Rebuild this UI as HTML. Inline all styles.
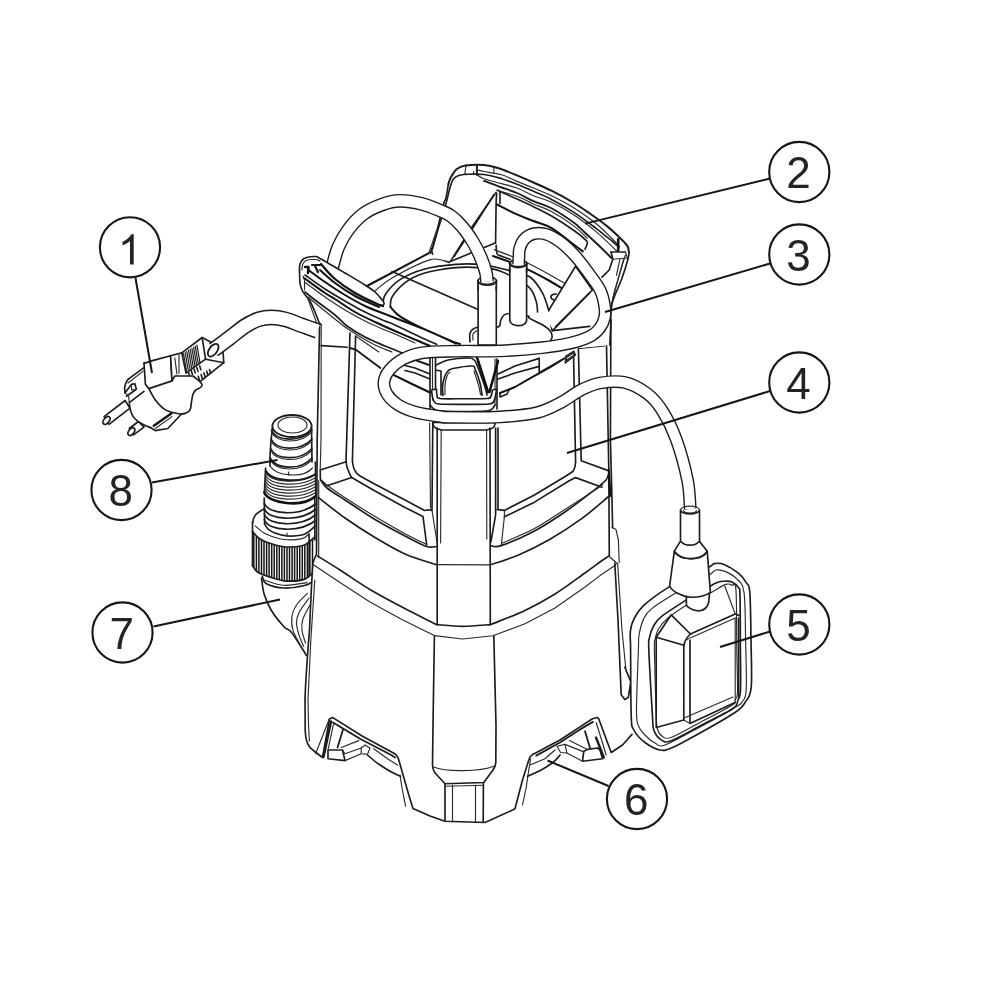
<!DOCTYPE html>
<html><head><meta charset="utf-8">
<style>
html,body{margin:0;padding:0;background:#fff;}
body{width:1000px;height:1000px;overflow:hidden;}
svg{display:block;}
.k{fill:none;stroke:#1c1c1c;stroke-width:1.65;stroke-linecap:round;stroke-linejoin:round;}
.t{fill:none;stroke:#2a2a2a;stroke-width:1.15;stroke-linecap:round;stroke-linejoin:round;}
.b{fill:none;stroke:#111;stroke-width:2;stroke-linecap:round;stroke-linejoin:round;}
.w{fill:#fff;stroke:#1c1c1c;stroke-width:1.65;stroke-linecap:round;stroke-linejoin:round;}
.wt{fill:#fff;stroke:#2a2a2a;stroke-width:1.15;stroke-linecap:round;stroke-linejoin:round;}
.wn{fill:#fff;stroke:none;}
.num{filter:grayscale(1);font-family:"Liberation Sans",sans-serif;font-size:44px;fill:#222;text-anchor:middle;}
.lead{fill:none;stroke:#151515;stroke-width:2;stroke-linecap:butt;}
.circ{fill:#fff;stroke:#151515;stroke-width:2.1;}
</style></head><body>
<svg width="1000" height="1000" viewBox="0 0 1000 1000">
<rect width="1000" height="1000" fill="#fff"/>
<g id="fitting">
<path class="wn" d="M261.5,578.0 C261.9,580.7 262.6,588.9 264.2,594.3 C265.8,599.7 268.1,605.1 271.4,610.5 C274.7,615.9 280.7,623.1 284.0,626.7 C287.3,630.3 288.2,628.4 291.2,632.0 C294.2,635.6 299.5,644.4 302.0,648.3 C304.5,652.2 305.7,654.3 306.4,655.5 L320,656 L320,580 Z"/>
<path class="k" d="M261.5,578.0 C261.9,580.7 262.6,588.9 264.2,594.3 C265.8,599.7 268.1,605.1 271.4,610.5 C274.7,615.9 280.7,623.1 284.0,626.7 C287.3,630.3 288.2,628.4 291.2,632.0 C294.2,635.6 299.5,644.4 302.0,648.3 C304.5,652.2 305.7,654.3 306.4,655.5"/>
<path class="t" d="M307.3,593.4 C305.5,595.3 299.1,601.2 296.5,605.0 C293.9,608.8 292.6,611.8 292.0,616.0 C291.4,620.2 291.3,624.9 293.0,630.3 C294.7,635.7 300.5,645.3 302.0,648.3"/>
<path class="t" d="M309.1,598.0 C307.5,600.4 301.3,608.1 299.2,612.3 C297.1,616.5 296.5,619.1 296.5,623.0 C296.5,626.9 298.0,631.8 299.2,635.7 C300.4,639.6 302.9,644.7 303.7,646.5"/>
<path class="t" d="M310.0,605.0 C308.8,607.4 304.1,615.3 302.8,619.5 C301.5,623.7 301.6,626.4 302.0,630.3 C302.4,634.2 304.9,640.9 305.5,643.0"/>
<path class="wn" d="M262.4,576.3 C263.0,577.5 262.4,581.5 266.0,583.5 C269.6,585.5 277.4,587.7 284.0,588.0 C290.6,588.3 300.5,586.6 305.5,585.3 C310.5,584.0 312.6,580.9 314.0,580.0 L314,560 L262,560 Z"/>
<path class="k" d="M262.4,576.3 C263.0,577.5 262.4,581.5 266.0,583.5 C269.6,585.5 277.4,587.7 284.0,588.0 C290.6,588.3 300.5,586.6 305.5,585.3 C310.5,584.0 312.6,580.9 314.0,580.0"/>
<path class="t" d="M264.2,580.0 C267.5,580.9 276.8,584.9 284.0,585.3 C291.2,585.7 303.4,583.0 307.3,582.6"/>
<path class="wn" d="M252.5,523.0 C252.8,522.1 253.2,519.1 254.0,517.5 C254.8,515.9 255.3,514.8 257.0,513.4 C258.7,512.0 261.2,510.0 264.2,508.9 C267.2,507.8 273.2,506.9 275.0,506.5 L314.5,506 L314.5,571 L314.5,571.0 L309.0,576.3 L302.0,580.0 L284.0,580.8 L262.4,574.5 L256.0,570.5 L252.5,565.5 Z"/>
<path d="M253.8,533.0 L253.8,567.7" stroke="#161616" stroke-width="1.5" fill="none"/>
<path d="M256.4,536.0 L256.4,570.8" stroke="#161616" stroke-width="1.5" fill="none"/>
<path d="M258.9,538.2 L258.9,573.0" stroke="#161616" stroke-width="1.5" fill="none"/>
<path d="M261.5,540.0 L261.5,574.1" stroke="#161616" stroke-width="1.5" fill="none"/>
<path d="M264.0,541.2 L264.0,575.1" stroke="#161616" stroke-width="1.5" fill="none"/>
<path d="M266.6,542.2 L266.6,576.0" stroke="#161616" stroke-width="1.5" fill="none"/>
<path d="M269.1,543.1 L269.1,576.9" stroke="#161616" stroke-width="1.5" fill="none"/>
<path d="M271.7,543.9 L271.7,577.7" stroke="#161616" stroke-width="1.5" fill="none"/>
<path d="M274.2,544.6 L274.2,578.5" stroke="#161616" stroke-width="1.5" fill="none"/>
<path d="M276.8,545.3 L276.8,579.2" stroke="#161616" stroke-width="1.5" fill="none"/>
<path d="M279.3,545.9 L279.3,579.9" stroke="#161616" stroke-width="1.5" fill="none"/>
<path d="M281.9,546.4 L281.9,580.4" stroke="#161616" stroke-width="1.5" fill="none"/>
<path d="M284.4,546.7 L284.4,580.9" stroke="#161616" stroke-width="1.5" fill="none"/>
<path d="M287.0,546.9 L287.0,581.1" stroke="#161616" stroke-width="1.5" fill="none"/>
<path d="M289.5,546.9 L289.5,581.2" stroke="#161616" stroke-width="1.5" fill="none"/>
<path d="M292.1,546.9 L292.1,581.1" stroke="#161616" stroke-width="1.5" fill="none"/>
<path d="M294.6,546.7 L294.6,581.0" stroke="#161616" stroke-width="1.5" fill="none"/>
<path d="M297.2,546.5 L297.2,580.7" stroke="#161616" stroke-width="1.5" fill="none"/>
<path d="M299.7,546.2 L299.7,580.4" stroke="#161616" stroke-width="1.5" fill="none"/>
<path d="M302.3,545.8 L302.3,580.0" stroke="#161616" stroke-width="1.5" fill="none"/>
<path d="M304.8,545.0 L304.8,579.2" stroke="#161616" stroke-width="1.5" fill="none"/>
<path d="M307.4,543.3 L307.4,577.6" stroke="#161616" stroke-width="1.5" fill="none"/>
<path d="M309.9,541.3 L309.9,575.6" stroke="#161616" stroke-width="1.5" fill="none"/>
<path d="M312.5,539.0 L312.5,573.1" stroke="#161616" stroke-width="1.5" fill="none"/>
<path class="k" d="M252.5,523.0 C252.8,522.1 253.2,519.1 254.0,517.5 C254.8,515.9 255.3,514.8 257.0,513.4 C258.7,512.0 261.2,510.0 264.2,508.9 C267.2,507.8 273.2,506.9 275.0,506.5"/>
<path class="k" d="M252.5,522 L252.5,565.5"/>
<path class="k" d="M252.5,531.4 C253.4,532.4 255.8,535.7 258.0,537.5 C260.2,539.3 261.7,540.5 266.0,542.0 C270.3,543.5 278.0,546.1 284.0,546.7 C290.0,547.3 297.8,546.6 302.0,545.8 C306.2,545.0 306.9,543.5 309.0,542.0 C311.1,540.5 313.6,537.8 314.5,537.0"/>
<path class="k" d="M252.5,565.5 C253.1,566.3 254.3,569.0 256.0,570.5 C257.6,572.0 257.7,572.8 262.4,574.5 C267.1,576.2 277.4,579.9 284.0,580.8 C290.6,581.7 297.8,580.8 302.0,580.0 C306.2,579.2 306.9,577.8 309.0,576.3 C311.1,574.8 313.6,571.9 314.5,571.0" style="stroke-width:1.8"/>
<path class="t" d="M255.2,526.0 C257.0,527.3 261.2,531.8 266.0,534.0 C270.8,536.2 278.0,538.7 284.0,539.5 C290.0,540.3 297.8,539.5 302.0,538.6 C306.2,537.7 307.8,534.8 309.0,534.0"/>
<path class="k" d="M309.1,534 L309.1,576"/>
<path class="wn" d="M264.2,496 L264.6,524.0 L268.0,529.0 L275.0,533.0 L287.5,536.0 L302.0,535.0 L309.0,531.4 L315.0,526.0 L316,496 Z"/>
<path class="k" d="M264.2,498 L264.6,524 M314.8,498 L314.8,540"/>
<path class="k" d="M264.6,524.0 C265.2,524.8 266.3,527.5 268.0,529.0 C269.7,530.5 271.8,531.8 275.0,533.0 C278.2,534.2 283.0,535.7 287.5,536.0 C292.0,536.3 298.4,535.8 302.0,535.0 C305.6,534.2 306.8,532.9 309.0,531.4 C311.2,529.9 314.0,526.9 315.0,526.0"/>
<path class="k" d="M264.3,503.0 C268,515.0 300,516.5 315.5,504.0"/>
<path class="k" d="M264.3,508.5 C268,520.5 300,522.0 315.5,509.5"/>
<path class="k" d="M264.3,514.0 C268,526.0 300,527.5 315.5,515.0"/>
<path class="k" d="M264.3,519.5 C268,531.5 300,533.0 315.5,520.5"/>
<path class="t" d="M287,536.5 L287,533"/>
<path class="wn" d="M265.4,466 L264.2,494 C272,506 308,508 315.8,496 L315.8,466 Z"/>
<path class="k" d="M265.6,468 L264.4,492.4 M315.4,462 L315.8,496"/>
<path class="t" d="M265.2,471.5 C270,483.0 300,484.5 315.8,474.5"/>
<path class="t" d="M265.2,474.5 C270,486.0 300,487.5 315.8,477.5"/>
<path class="t" d="M265.2,477.5 C270,489.0 300,490.5 315.8,480.5"/>
<path class="t" d="M265.2,480.5 C270,492.0 300,493.5 315.8,483.5"/>
<path class="t" d="M265.2,483.5 C270,495.0 300,496.5 315.8,486.5"/>
<path class="t" d="M265.2,486.5 C270,498.0 300,499.5 315.8,489.5"/>
<path class="t" d="M265.2,489.5 C270,501.0 300,502.5 315.8,492.5"/>
<path class="b" d="M264.2,492.4 C268,503.5 302,508.5 315.8,496" style="stroke-width:2.6"/>
<path class="k" d="M266,471 C271,481 300,484 315.5,474" style="stroke-width:2"/>
<path class="wn" d="M272.5,427 L270,458 L270,470 C280,480 305,480 312,470 L311.5,427 Z"/>
<path class="k" d="M272.5,427 C271.5,435 270.5,444 270,456 L270,466 M311.5,427 L312,462"/>
<path class="k" d="M271.5,430.0 C276,441.5 300,443.0 312,430.0"/>
<path class="t" d="M271.5,431.8 C276,443.3 300,444.8 312,431.8"/>
<path class="k" d="M271.1,439.0 C276,450.5 300,452.0 312,439.0"/>
<path class="t" d="M271.1,440.8 C276,452.3 300,453.8 312,440.8"/>
<path class="k" d="M270.6,448.5 C276,460.0 300,461.5 312,448.5"/>
<path class="t" d="M270.6,450.3 C276,461.8 300,463.3 312,450.3"/>
<path class="k" d="M270.1,458.0 C276,469.5 300,471.0 312,458.0"/>
<path class="t" d="M270.1,459.8 C276,471.3 300,472.8 312,459.8"/>
<path class="t" d="M270,466 C276,476 303,479 312.5,468"/>
<path class="t" d="M288.5,472 L288.5,475"/>
<ellipse cx="292" cy="426" rx="19.6" ry="11" class="w" style="stroke-width:1.8"/>
<ellipse cx="292.5" cy="425" rx="14.5" ry="8" class="wt"/>
</g>
<g id="midbody">
<path class="wn" d="M319.6,325.6 L317.2,440 L316.5,548 L317.5,556.0 L340.0,570.0 L370.0,589.5 L400.0,606.0 L436.2,624.5 L462.5,626.4 L490.6,624.6 L525.0,610.5 L555.0,594.0 L585.0,573.0 L600.0,562.0 L609.3,555.7 L612,527 L611,330 L560,340 L480,360 L400,340 Z"/>
<path class="k" d="M319.6,325.6 L317.2,440 L316.5,554 L313,562.5"/>
<path class="k" d="M317.5,556.0 C321.2,558.3 331.2,564.4 340.0,570.0 C348.8,575.6 360.0,583.5 370.0,589.5 C380.0,595.5 389.0,600.2 400.0,606.0 C411.0,611.8 430.2,621.4 436.2,624.5 L436.2,624.5 C440.6,624.8 453.4,626.4 462.5,626.4 C471.6,626.4 485.9,624.9 490.6,624.6 L490.6,624.6 C496.3,622.2 514.3,615.6 525.0,610.5 C535.7,605.4 545.0,600.2 555.0,594.0 C565.0,587.8 577.5,578.3 585.0,573.0 C592.5,567.7 596.0,564.9 600.0,562.0 C604.0,559.1 607.8,556.8 609.3,555.7"/>
<path class="t" d="M321.2,326 L321,440 L320.2,470 M318.7,480.5 L318.7,557"/>
<path class="k" d="M606.5,345.3 L608.8,470 L609.3,555.7"/>
<path class="k" d="M610.9,320 L610.4,440 L612,500 L612.6,528"/>
<path class="b" d="M608.8,470.4 L610.4,496" style="stroke-width:2.2"/>
<path class="t" d="M604.8,345.9 L578.4,348.6"/>
<path class="k" d="M321.2,345.6 L347.2,347.2"/>
<path class="t" d="M612,527.2 L616,529.6 L618.4,540 L619.2,562.4 M609.6,556.8 L616.8,563.2"/>
<path class="k" d="M437.2,428 L437.2,625 M490,428 L490.3,624.6"/>
<path class="t" d="M441.2,430 L440.6,543 M486.6,430 L486.8,539"/>
<path class="t" d="M437.2,564.6 L490,564.8"/>
<path class="k" d="M432.8,422.4 L495.2,422.4 M432.8,422.8 C433,426 434.5,428 437.2,428.8 L441.6,430 L486.4,430 L491,428.8 C493.5,428 495,426 495.2,422.8"/>
<path class="k" d="M350,333 L346,461 C346.5,466 347.5,469 348.4,470.5 C349.5,474 350.5,476 351.7,477.5 L375,491 L405,507.5 L423,516.5 L426.7,545"/>
<path class="k" d="M355.6,336 L352.4,461 C353,466 354,469 354.8,470.4 C356,473 358,475 360,476 L375,484.2 L405,500 L424.5,510.5 L429,509.7 L432,510.5 L432.8,423"/>
<path class="t" d="M429.6,423 L430.5,508"/>
<path class="t" d="M432,510.5 L437.2,543.5"/>
<path class="k" d="M320.2,470 L346.2,461.7 M320.2,470 L320.4,479.7 L327,485.7 L351.7,477.5"/>
<path class="k" d="M321.0,480.5 C322.0,481.8 323.0,484.8 327.0,488.0 C331.0,491.2 337.0,494.8 345.0,500.0 C353.0,505.2 365.0,513.5 375.0,519.5 C385.0,525.5 396.4,531.5 405.0,536.0 C413.6,540.5 421.4,544.8 426.7,546.5 C431.9,548.2 434.9,546.5 436.5,546.5"/>
<path class="t" d="M327.7,485.7 C330.6,487.7 337.1,492.6 345.0,497.7 C352.9,502.8 365.0,510.5 375.0,516.5 C385.0,522.5 396.5,529.1 405.0,533.7 C413.5,538.3 422.5,542.5 426.0,544.2"/>
<path class="k" d="M318.7,497.7 C323.1,501.1 335.6,511.4 345.0,518.0 C354.4,524.6 365.0,531.5 375.0,537.5 C385.0,543.5 394.6,549.4 405.0,554.0 C415.4,558.6 431.8,563.2 437.2,565.0"/>
<path class="k" d="M495.6,428 L495.6,515.2 L490.8,542.4 M504.4,516.8 L534,502.4 L569.2,480.8 L575.6,477.6 L602,487.2"/>
<path class="k" d="M498,428 L498,509.6 L504.4,510.4 L534,495.2 L566,476 L573.2,471.2 C575,468 575.6,466 575.6,462 L573.5,353"/>
<path class="k" d="M578.4,349 L581.2,460.8 L607.6,470.4"/>
<path class="t" d="M504.4,510.4 L504.4,516.8 L501.2,545.6 M495.6,509.6 L498,509.6"/>
<path class="k" d="M490.8,545.6 C492.5,545.6 494.0,548.0 501.2,545.6 C508.4,543.2 523.2,536.9 534.0,531.2 C544.8,525.5 555.9,518.1 566.0,511.2 C576.1,504.3 588.1,494.8 594.8,489.6 C601.5,484.4 603.7,482.5 606.0,480.0 C608.3,477.5 608.0,475.3 608.4,474.4"/>
<path class="t" d="M502.0,543.2 C507.3,540.8 523.3,534.5 534.0,528.8 C544.7,523.1 554.5,516.1 566.0,508.8 C577.5,501.5 596.7,488.8 602.8,484.8"/>
<path class="k" d="M490.0,564.8 C494.7,563.2 508.0,559.5 518.0,555.2 C528.0,550.9 539.3,545.3 550.0,539.2 C560.7,533.1 572.1,525.6 582.0,518.4 C591.9,511.2 604.7,499.7 609.2,496.0"/>
</g>
<g id="base">
<path class="wn" d="M313,562.5 C311.5,580 310.5,610 309.5,630 C307,660 305.5,685 305,700 L305.2,731 C305.5,742 309,748 314,751 L322.5,757.5 L329.5,719 L332.5,717.5 L335.6,719.4 L362.5,736.2 L392.5,752.5 C396,754 398,757 398.8,760 L403.8,777.5 L408.8,795 L413,808.5 L430,816 L445,821.2 L485,822.5 L510,811.2 L515,808.8 L522.5,780 L528.8,760 C530,756 532,754 535.6,753 L560,740 L580,726.9 L592.5,718.8 L597.5,717.5 L598.8,719 L611.2,752.5 L622.5,745 L632,734.4 L628.4,697.2 L624.8,699.6 L621.2,694.8 L618,620 L615.2,563.2 L600.0,573.5 L585.0,585.0 L555.0,606.0 L525.0,621.7 L492.7,633.7 L462.5,637.0 L434.4,633.0 L420.0,626.5 L400.0,616.5 L370.0,600.0 L340.0,580.5 L313.0,562.5 Z"/>
<path class="k" d="M313,562.5 C311.5,580 310.5,610 309.5,630 C307,660 305.5,685 305,700 L305.2,731 C305.5,742 309,748 314,751 L322.5,757.5 L329.5,719 L332.5,717.5 L335.6,719.4 L362.5,736.2 L392.5,752.5 C396,754 398,757 398.8,760 L403.8,777.5 L408.8,795 L413,808.5 L430,816 L445,821.2 L485,822.5 L510,811.2 L515,808.8 L522.5,780 L528.8,760 C530,756 532,754 535.6,753 L560,740 L580,726.9 L592.5,718.8 L597.5,717.5 L598.8,719 L611.2,752.5 L622.5,745 L632,734.4"/>
<path class="k" d="M614.8,563.2 L618,620 L621.2,694.8 L624.8,699.6 L628.4,697.2 L630.8,681.6 L624.8,667.2"/>
<path class="t" d="M617.6,563 L622,630 L626,670.8"/>
<path class="t" d="M313.0,564.6 L340.0,582.6 L370.0,602.0 L400.0,618.5 L420.0,628.5 L434.4,635.6"/>
<path class="t" d="M434.4,635.6 L462.5,639.0 L493.0,635.8 L525.0,623.7 L555.0,608.0 L585.0,587.0 L600.0,575.6 L616.0,564.8"/>
<path class="t" d="M314.8,580 C312.5,610 309.5,660 308,700 L308.5,725 L309.4,741"/>
<path class="k" d="M434.4,636.2 L433,725 L432.5,765 C432.8,770 434,772 436,774 L445,783.8 L483.8,782.5 L493,770 C494.5,768 495.5,766 495.8,763 L496,725 L493.8,635.6"/>
<path class="t" d="M433.5,767 C445,772 480,772 494.5,766"/>
<path class="t" d="M446,786.3 L483,785.3"/>
<path class="k" d="M445,783.8 L445,821.2 M483.4,782.5 L483.2,822"/>
<path class="t" d="M452.5,785 L452.5,822 M475.5,785 L475.5,822.3"/>
<path class="t" d="M315.6,753.8 L329.4,718.8"/>
<path class="k" d="M323.5,757 L331,721.5" style="stroke-width:2.4"/>
<path class="k" d="M333,722.5 L360,738.8 L391.2,755 L395,757.5" style="stroke-width:1.8"/>
<path class="t" d="M400,775 L401.9,787.5 L405.6,806.2"/>
<path class="k" d="M367.5,755 C372,759 376,762.5 380,765 C386,769 393,773.5 400.5,776.2"/>
<path class="t" d="M373.8,748.8 L387.5,758.8 L397.5,765"/>
<path class="k" d="M328,750 L342.5,750 L345,760.6 L328,758.8 Z"/>
<path class="t" d="M341.2,747.5 L358.8,740.6 M345,753.8 L361.2,748 M345,760.6 L361.2,753.8 M342.5,750 L345,753.8"/>
<path class="t" d="M361.2,748 L365,745 L370,748 L367.5,754.4 L361.2,753.8 Z"/>
<path class="k" d="M337.5,747.5 L343,729.4" style="stroke-width:1.8"/>
<path class="t" d="M328,750 L333.5,724"/>
<path class="t" d="M522.5,805 L526.2,787.5 L528.8,770 L530.6,758.8"/>
<path class="k" d="M536.2,755.6 L560,742.5 L580,729.4 L593,721.9" style="stroke-width:1.8"/>
<path class="t" d="M596.2,722.5 L606.2,755"/>
<path class="k" d="M596,737.5 L603.8,757.5" style="stroke-width:2.4"/>
<path class="k" d="M527.5,776.2 C533,774 537,772 541.2,770 C545,768 548,766 551.2,763.8 C555,761 558,758 560,755"/>
<path class="t" d="M530,765 L545,758.8 L555,750"/>
<path class="k" d="M583.8,751.2 L587.5,749.4 L597.5,748 L600,750 L602.5,758.8 L582.5,761.2 Z"/>
<path class="t" d="M587.5,749.4 L569.4,740.6 M583.8,751.9 L565,744.4 M582.5,761.2 L566.9,753"/>
<path class="t" d="M565,744.4 L556.9,746.2 L560.6,752.5 L566.9,753 Z"/>
<path class="k" d="M585,731.2 L590,748" style="stroke-width:1.8"/>
</g>
<g id="backhandle">
<path class="wn" d="M448.4,184.0 C448.8,182.8 449.6,179.4 451.0,177.0 C452.4,174.6 454.1,171.2 456.5,169.3 C458.9,167.4 460.7,166.2 465.3,165.5 C469.9,164.8 478.7,164.5 484.0,164.9 C489.3,165.3 491.7,165.9 497.2,167.7 C502.7,169.4 510.9,172.9 517.0,175.4 C523.0,177.9 527.7,179.9 533.5,182.5 C539.3,185.1 545.2,187.5 552.0,190.9 C558.8,194.3 567.6,199.2 574.0,203.0 C580.4,206.8 585.0,210.2 590.5,214.0 C596.0,217.8 602.4,222.4 607.0,226.1 C611.6,229.8 615.1,233.2 618.0,236.0 C620.9,238.8 623.0,240.8 624.6,242.6 C626.2,244.4 627.2,245.3 627.9,247.0 C628.6,248.7 628.8,251.6 629.0,252.5 L629.0,252.5 C628.8,253.6 629.2,254.6 628.0,259.0 C626.8,263.4 624.5,271.3 621.8,278.8 C619.1,286.3 613.9,295.6 612.0,304.0 C610.1,312.4 611.0,322.4 610.6,329.2 C610.2,336.0 609.9,342.4 609.8,345.0 L560,350 L431,260 L430,254 L430.0,254.0 L434.8,239.6 L443.3,205.0 L446.0,198.0 L448.4,184.0 Z"/>
<path class="k" d="M448.4,184.0 C448.8,182.8 449.6,179.4 451.0,177.0 C452.4,174.6 454.1,171.2 456.5,169.3 C458.9,167.4 460.7,166.2 465.3,165.5 C469.9,164.8 478.7,164.5 484.0,164.9 C489.3,165.3 491.7,165.9 497.2,167.7 C502.7,169.4 510.9,172.9 517.0,175.4 C523.0,177.9 527.7,179.9 533.5,182.5 C539.3,185.1 545.2,187.5 552.0,190.9 C558.8,194.3 567.6,199.2 574.0,203.0 C580.4,206.8 585.0,210.2 590.5,214.0 C596.0,217.8 602.4,222.4 607.0,226.1 C611.6,229.8 615.1,233.2 618.0,236.0 C620.9,238.8 623.0,240.8 624.6,242.6 C626.2,244.4 627.2,245.3 627.9,247.0 C628.6,248.7 628.8,251.6 629.0,252.5" style="stroke-width:2"/>
<path class="k" d="M629.0,252.5 C628.8,253.6 629.2,254.6 628.0,259.0 C626.8,263.4 624.5,271.3 621.8,278.8 C619.1,286.3 613.9,295.6 612.0,304.0 C610.1,312.4 611.0,322.4 610.6,329.2 C610.2,336.0 609.9,342.4 609.8,345.0"/>
<path class="k" d="M448.4,184.0 C448.0,186.3 446.9,194.5 446.0,198.0 C445.1,201.5 445.2,198.1 443.3,205.0 C441.4,211.9 437.0,231.4 434.8,239.6 C432.6,247.8 430.8,251.6 430.0,254.0"/>
<path class="k" d="M432.4,249.2 C433.5,245.5 436.5,234.4 438.8,226.8 C441.1,219.2 444.1,209.9 446.0,203.4 C447.9,196.9 448.7,192.0 449.9,188.0 C451.1,184.0 451.7,181.3 453.2,179.2 C454.7,177.1 456.7,176.2 458.7,175.4 C460.7,174.6 464.2,174.5 465.3,174.3"/>
<path class="t" d="M477.0,170.0 C478.2,170.2 479.9,170.7 484.0,171.5 C488.1,172.3 496.1,173.2 501.6,174.8 C507.1,176.5 511.7,179.2 517.0,181.4 C522.3,183.6 527.7,185.6 533.5,188.0 C539.3,190.4 545.2,192.7 552.0,196.0 C558.8,199.3 566.7,203.4 574.0,208.0 C581.3,212.6 589.7,218.4 596.0,223.5 C602.3,228.6 608.2,234.8 612.0,238.5 C615.8,242.2 617.8,244.8 619.0,246.0"/>
<path class="k" d="M465.3,174.3 C468.4,174.3 477.9,173.8 484.0,174.5 C490.1,175.2 496.1,177.1 501.6,178.7 C507.1,180.3 511.7,182.1 517.0,184.2 C522.3,186.3 527.7,188.7 533.5,191.3 C539.3,193.9 545.2,196.2 552.0,199.7 C558.8,203.2 566.7,207.6 574.0,212.4 C581.3,217.2 589.6,223.5 596.0,228.3 C602.4,233.2 608.7,238.4 612.5,241.5 C616.3,244.6 617.9,246.1 619.0,247.0"/>
<path class="t" d="M476.9,174.8 C478.1,175.5 479.9,177.2 484.0,178.7 C488.1,180.2 496.1,182.0 501.6,183.6 C507.1,185.2 511.7,186.0 517.0,188.0 C522.3,190.0 527.7,193.3 533.5,195.7 C539.3,198.1 545.2,199.3 552.0,202.5 C558.8,205.7 566.7,210.2 574.0,215.1 C581.3,219.9 589.8,226.5 596.0,231.6 C602.2,236.7 607.9,242.6 611.4,245.9 C614.9,249.2 616.1,250.5 617.0,251.4"/>
<path class="k" d="M484.0,180.9 C486.9,182.0 496.1,185.5 501.6,187.5 C507.1,189.5 511.7,190.7 517.0,193.0 C522.3,195.3 527.7,198.6 533.5,201.2 C539.3,203.8 545.2,204.9 552.0,208.5 C558.8,212.1 568.5,218.8 574.0,222.8 C579.5,226.8 580.6,228.7 585.0,232.7 C589.4,236.7 596.0,242.8 600.4,247.0 C604.8,251.2 609.6,256.2 611.4,258.0" style="stroke-width:1.9"/>
<path class="t" d="M500.0,191.3 C502.8,192.1 511.4,194.2 517.0,196.3 C522.6,198.4 527.7,201.4 533.5,204.0 C539.3,206.6 545.2,208.1 552.0,211.8 C558.8,215.5 568.1,221.7 574.0,226.1 C579.9,230.5 585.0,236.2 587.2,238.2"/>
<path class="k" d="M500.0,191.6 C502.8,192.8 511.4,196.5 517.0,199.0 C522.6,201.5 527.7,203.8 533.5,206.7 C539.3,209.6 545.2,212.2 552.0,216.2 C558.8,220.2 568.3,226.5 574.0,230.5 C579.7,234.5 583.9,238.2 586.1,240.4 C588.3,242.6 587.4,242.2 587.2,243.7 C587.0,245.2 585.4,248.3 585.0,249.2"/>
<path class="b" d="M497.2,204.5 C500.5,206.2 510.9,211.7 517.0,214.4 C523.0,217.2 527.7,218.7 533.5,221.0 C539.3,223.3 545.2,224.3 552.0,228.3 C558.8,232.3 568.9,241.0 574.0,244.8 C579.1,248.7 581.3,250.3 582.8,251.4"/>
<path class="t" d="M465.9,166.0 L464.8,174.3"/>
<path class="k" d="M476.9,166.0 L476.9,174.8" style="stroke-width:2"/>
<path class="t" d="M473.6,171.5 L473.6,174.6"/>
<path class="t" d="M493.9,167.7 L493.9,172.6"/>
<path class="k" d="M497.2,190.2 L500.0,191.3 L500.0,203.4"/>
<path class="k" d="M496.7,193.5 C496.6,195.3 496.3,196.2 496.1,204.5 C495.9,212.8 495.7,236.6 495.6,243.0"/>
<path class="k" d="M496.1,192.4 L473.0,225.4 L451.0,260.6"/>
<path class="k" d="M493.9,194.6 L475.2,224.3 L454.3,256.2"/>
<path class="k" d="M431.6,249.2 L433.2,258.8 L449.2,262.0 L487.3,246.3 L495.0,243.0"/>
<path class="k" d="M496.1,245.2 C496.3,246.7 496.3,252.2 497.2,254.0 C498.1,255.8 499.4,255.3 501.6,256.2 C503.8,257.1 508.9,258.9 510.4,259.5"/>
<path class="b" d="M618.2,239.4 L618.2,250.2" style="stroke-width:2.6"/>
<path class="k" d="M611.0,252.0 L625.4,252.0"/>
<path class="k" d="M611.0,252.0 L612.8,259.2 L609.2,270.0 L602.0,277.2"/>
<path class="t" d="M625.4,252.0 L628.0,259.2"/>
<path class="t" d="M612.8,259.2 L628.0,258.0"/>
<path class="t" d="M623.6,259.2 L612.8,298.8"/>
<path class="t" d="M620.0,259.2 L616.4,275.4"/>
<path class="t" d="M625.3,255.0 L614.8,290.0 L611.5,304.0"/>
<path class="w" d="M575.6,266.2 L544.8,316.6 L552.5,330.6 L592.4,290.0 Z"/>
<path class="k" d="M589.6,292.8 L556.0,326.4" style="stroke-width:1.8"/>
<path class="k" d="M552.5,330.6 L589.6,326.4" style="stroke-width:1.8"/>
</g>
<g id="top">
<path class="wn" d="M368,286 L428.8,253.2 L449.6,262.8 L510,260 L545,290 L552,337 L560,350 L380,350 Z"/>
<path class="b" d="M367.0,286.0 L428.8,253.2"/>
<path class="t" d="M375.2,290.8 C378.0,288.7 382.8,283.2 392.0,278.0 C401.2,272.8 420.8,262.1 430.4,259.6 C440.0,257.1 446.4,262.3 449.6,262.8"/>
<path class="t" d="M428.8,253.2 L436.8,230.0"/>
<path class="b" d="M493.0,256.0 C495.8,257.0 503.9,259.6 510.0,262.0 C516.1,264.4 523.3,267.4 529.6,270.4 C535.9,273.4 542.7,277.1 548.0,280.0 C553.3,282.9 559.3,286.7 561.6,288.0"/>
<path class="t" d="M494.4,249.6 C500.3,252.0 517.9,258.4 529.6,264.0 C541.3,269.6 558.9,280.0 564.8,283.2"/>
<path class="k" d="M382.4,305.2 C382.9,303.3 382.7,298.3 385.6,294.0 C388.5,289.7 393.6,283.7 400.0,279.6 C406.4,275.5 414.7,271.7 424.0,269.2 C433.3,266.7 446.7,265.2 456.0,264.4 C465.3,263.6 473.3,263.9 480.0,264.4 C486.7,264.9 491.2,266.2 496.0,267.2 C500.8,268.2 503.2,268.8 508.8,270.4 C514.4,272.0 524.0,273.1 529.6,276.8 C535.2,280.5 539.2,287.2 542.4,292.8 C545.6,298.4 547.7,307.5 548.8,310.4"/>
<path class="k" d="M390.4,306.8 C390.7,305.2 389.6,301.2 392.0,297.2 C394.4,293.2 399.5,286.8 404.8,282.8 C410.1,278.8 415.5,275.7 424.0,273.2 C432.5,270.7 447.0,268.5 456.0,267.6 C465.0,266.7 470.7,267.0 478.0,267.6 C485.3,268.2 491.7,267.9 500.0,271.0 C508.3,274.1 522.0,281.4 528.0,286.4 C534.0,291.4 534.4,296.5 536.0,300.8 C537.6,305.1 537.3,310.1 537.6,312.0"/>
<path class="b" d="M390.4,306.8 C392.0,308.4 394.4,312.7 400.0,316.4 C405.6,320.1 415.7,325.2 424.0,329.2 C432.3,333.2 443.6,337.9 449.6,340.4 C455.6,342.9 458.3,343.4 460.0,344.0"/>
<path class="k" d="M392.0,271.6 L478.0,309.5"/>
<path class="w" d="M470.0,342.0 C470.0,340.5 469.3,335.2 470.0,333.0 C470.7,330.8 472.3,329.5 474.0,328.5 C475.7,327.5 476.0,327.2 480.0,327.0 C484.0,326.8 494.5,328.2 498.0,327.0 C501.5,325.8 499.8,322.0 500.8,320.0 C501.8,318.0 502.5,316.3 504.0,315.2 C505.5,314.1 506.1,313.4 510.0,313.5 C514.0,313.6 524.4,315.2 527.7,316.0 C531.0,316.8 527.2,316.9 529.6,318.4 C532.0,319.9 538.9,322.7 542.4,324.8 C545.9,326.9 548.8,329.1 550.4,331.2 C552.0,333.3 552.3,335.6 552.0,337.6 C551.7,339.6 549.3,342.1 548.8,343.0"/>
<path class="t" d="M473.0,340.0 C473.0,339.0 472.3,335.6 473.0,334.0 C473.7,332.4 476.3,331.1 477.0,330.5"/>
<path class="k" d="M556.0,294.0 C555.3,294.2 552.8,294.3 552.0,295.0 C551.2,295.7 550.7,297.2 551.0,298.0 C551.3,298.8 553.5,299.7 554.0,300.0" style="stroke-width:1.8"/>
</g>
<g id="connectors">
<path class="w" d="M478.1,281 L478.1,345 L496.3,345 L496.3,281 Z"/>
<ellipse cx="487.2" cy="281" rx="9.4" ry="4.2" class="w"/>
<path class="w" d="M509.8,263.4 L509.8,321 C512,327 524,327.5 526.6,321 L526.6,263.4 Z"/>
<ellipse cx="518.2" cy="263.4" rx="8.6" ry="3.9" class="w"/>
</g>
<g id="cableA">
<path d="M331.0,272.0 C331.4,270.6 332.0,267.8 333.2,263.6 C334.4,259.4 335.9,252.4 338.4,246.8 C340.9,241.2 343.9,235.5 348.0,230.0 C352.1,224.5 357.5,218.3 363.2,214.0 C368.9,209.7 376.3,206.6 382.4,204.4 C388.5,202.2 393.6,200.9 400.0,200.8 C406.4,200.7 414.1,202.0 420.8,203.6 C427.5,205.2 435.0,208.4 440.0,210.5 C445.0,212.6 447.3,213.3 451.0,216.0 C454.7,218.7 458.3,222.2 462.0,226.5 C465.7,230.8 469.8,236.8 473.0,242.0 C476.2,247.2 478.9,253.0 481.0,258.0 C483.1,263.0 484.8,268.1 485.8,272.0 C486.8,275.9 486.8,279.9 487.0,281.5" fill="none" stroke="#1c1c1c" stroke-width="13.8" stroke-linecap="butt" stroke-linejoin="round"/><path d="M331.0,272.0 C331.4,270.6 332.0,267.8 333.2,263.6 C334.4,259.4 335.9,252.4 338.4,246.8 C340.9,241.2 343.9,235.5 348.0,230.0 C352.1,224.5 357.5,218.3 363.2,214.0 C368.9,209.7 376.3,206.6 382.4,204.4 C388.5,202.2 393.6,200.9 400.0,200.8 C406.4,200.7 414.1,202.0 420.8,203.6 C427.5,205.2 435.0,208.4 440.0,210.5 C445.0,212.6 447.3,213.3 451.0,216.0 C454.7,218.7 458.3,222.2 462.0,226.5 C465.7,230.8 469.8,236.8 473.0,242.0 C476.2,247.2 478.9,253.0 481.0,258.0 C483.1,263.0 484.8,268.1 485.8,272.0 C486.8,275.9 486.8,279.9 487.0,281.5" fill="none" stroke="#fff" stroke-width="11.0" stroke-linecap="butt" stroke-linejoin="round"/>
<path class="wn" d="M477.8,281 A9.4,4.2 0 0 0 496.6,281 L496.6,286 L477.8,286 Z"/>
<path class="k" d="M477.8,281 A9.4,4.2 0 0 0 496.6,281"/>
<path class="t" d="M480.2,281.3 A7,2.8 0 0 0 494.2,281.3"/>
<path class="k" d="M478.1,281 L478.1,290 M496.3,281 L496.3,290"/>
</g>
<g id="fronthandle">
<path class="wn" d="M299.5,270.0 C299.6,269.0 299.2,265.9 300.0,264.0 C300.8,262.1 301.5,259.8 304.0,258.5 C306.5,257.2 312.2,256.4 315.0,256.5 C317.8,256.6 316.0,256.2 321.0,259.0 C326.0,261.8 337.7,268.7 345.0,273.0 C352.3,277.3 360.0,281.8 365.0,285.0 C370.0,288.2 372.0,289.3 375.0,292.0 C378.0,294.7 381.5,299.0 383.0,301.0 C384.5,303.0 384.2,303.2 384.0,304.0 C383.8,304.8 382.3,305.7 382.0,306.0 L395,318 L424,329.2 L456,343.6 L456,372 L410,358 L410.0,356.0 L395.0,350.0 L385.0,346.0 L365.0,337.0 L347.0,326.0 L335.0,315.0 L315.0,300.0 L305.0,292.0 L321.5,325 L321.5,325.0 L319.0,322.0 L315.0,312.0 L310.0,301.0 L306.0,296.0 L302.0,290.0 L300.0,283.0 L299.5,270.0 Z"/>
<path class="k" d="M299.5,270.0 C299.6,269.0 299.2,265.9 300.0,264.0 C300.8,262.1 301.5,259.8 304.0,258.5 C306.5,257.2 312.2,256.4 315.0,256.5 C317.8,256.6 316.0,256.2 321.0,259.0 C326.0,261.8 337.7,268.7 345.0,273.0 C352.3,277.3 360.0,281.8 365.0,285.0 C370.0,288.2 372.0,289.3 375.0,292.0 C378.0,294.7 381.5,299.0 383.0,301.0 C384.5,303.0 384.2,303.2 384.0,304.0 C383.8,304.8 382.3,305.7 382.0,306.0"/>
<path class="t" d="M302.0,270.0 C302.1,269.2 301.8,266.6 302.5,265.0 C303.2,263.4 303.9,261.4 306.0,260.5 C308.1,259.6 312.7,259.4 315.0,259.5 C317.3,259.6 319.2,260.8 320.0,261.0"/>
<path class="k" d="M299.5,270.0 C299.6,272.2 299.6,279.7 300.0,283.0 C300.4,286.3 301.0,287.8 302.0,290.0 C303.0,292.2 304.7,294.2 306.0,296.0 C307.3,297.8 308.5,298.3 310.0,301.0 C311.5,303.7 313.5,308.5 315.0,312.0 C316.5,315.5 317.9,319.8 319.0,322.0 C320.1,324.2 321.1,324.5 321.5,325.0"/>
<path class="t" d="M308.0,299.0 L317.0,324.0"/>
<path class="t" d="M303.0,276.0 L304.5,280.0 L304.5,290.0"/>
<path class="b" d="M305.0,267.0 L308.5,267.0 L308.0,273.0" style="stroke-width:2.6"/>
<path class="b" d="M312.0,265.0 L320.0,265.0" style="stroke-width:2.2"/>
<path class="b" d="M315.0,266.0 L318.0,272.0" style="stroke-width:2.2"/>
<path class="b" d="M321.0,264.0 C323.3,266.5 329.3,274.2 335.0,279.0 C340.7,283.8 348.3,289.0 355.0,293.0 C361.7,297.0 370.3,300.8 375.0,303.0 C379.7,305.2 381.7,305.5 383.0,306.0" style="stroke-width:2.2"/>
<path class="b" d="M320.0,270.0 C322.5,272.2 329.2,278.7 335.0,283.0 C340.8,287.3 347.7,292.0 355.0,296.0 C362.3,300.0 375.0,305.2 379.0,307.0"/>
<path class="b" d="M308.5,270.0 C311.2,272.0 318.9,277.8 325.0,282.0 C331.1,286.2 338.3,291.0 345.0,295.0 C351.7,299.0 358.3,302.8 365.0,306.0 C371.7,309.2 380.0,312.0 385.0,314.0 C390.0,316.0 388.5,315.5 395.0,318.0 C401.5,320.5 413.8,324.9 424.0,329.2 C434.2,333.5 450.7,341.2 456.0,343.6"/>
<path class="k" d="M305.0,275.0 C308.3,277.3 318.3,284.7 325.0,289.0 C331.7,293.3 338.3,297.2 345.0,301.0 C351.7,304.8 358.3,308.7 365.0,312.0 C371.7,315.3 380.0,318.8 385.0,321.0 C390.0,323.2 388.5,322.0 395.0,325.0 C401.5,328.0 417.0,335.6 424.0,338.8 C431.0,342.0 434.7,343.5 436.8,344.4"/>
<path class="b" d="M304.0,278.0 C307.5,280.5 319.8,289.5 325.0,293.0 C330.2,296.5 330.0,295.8 335.0,299.0 C340.0,302.2 348.3,308.2 355.0,312.0 C361.7,315.8 368.3,318.8 375.0,322.0 C381.7,325.2 387.4,327.7 395.0,331.0 C402.6,334.3 415.0,339.5 420.8,342.0 C426.6,344.5 428.5,345.3 430.0,346.0"/>
<path class="t" d="M304.5,282.0 C307.9,284.5 318.2,292.3 325.0,297.0 C331.8,301.7 338.3,306.0 345.0,310.0 C351.7,314.0 358.3,317.7 365.0,321.0 C371.7,324.3 380.0,327.8 385.0,330.0 C390.0,332.2 390.0,331.8 395.0,334.0 C400.0,336.2 411.7,341.5 415.0,343.0"/>
<path class="k" d="M305.0,292.0 C306.7,293.3 310.0,296.2 315.0,300.0 C320.0,303.8 329.7,310.7 335.0,315.0 C340.3,319.3 342.0,322.3 347.0,326.0 C352.0,329.7 358.7,333.7 365.0,337.0 C371.3,340.3 380.0,343.8 385.0,346.0 C390.0,348.2 390.8,348.3 395.0,350.0 C399.2,351.7 407.5,355.0 410.0,356.0"/>
<path class="t" d="M308.0,297.0 C310.8,299.3 318.8,306.0 325.0,311.0 C331.2,316.0 339.3,322.8 345.0,327.0 C350.7,331.2 354.0,333.0 359.0,336.0 C364.0,339.0 369.5,342.3 375.0,345.0 C380.5,347.7 389.2,350.8 392.0,352.0"/>
<path class="t" d="M355.6,336.0 L378.8,352.0"/>
<path class="k" d="M350.0,348.0 L355.6,349.6 L380.4,368.0" style="stroke-width:1.9"/>
</g>
<g id="latch">
<path class="wn" d="M430,358 L497.5,358 L497.5,412 L430,412 Z"/>
<path class="b" d="M392.4,374.4 L412.0,384.0 L430.0,392.5"/>
<path class="k" d="M402.0,364.8 L415.0,368.0 L430.0,374.0"/>
<path class="k" d="M405.0,370.5 L415.0,373.0 L430.0,379.0"/>
<path class="k" d="M411.6,357.5 L415.0,360.0 L429.0,365.0" style="stroke-width:1.9"/>
<path class="t" d="M398.0,399.0 L415.0,407.0 L430.0,411.0"/>
<path class="k" d="M539.2,358.4 L515.0,366.0 L498.0,374.0"/>
<path class="k" d="M539.2,366.4 L515.0,373.0 L498.0,379.0"/>
<path class="b" d="M564.1,358.5 L552.0,366.2 L530.0,378.3 L515.0,387.0 L500.0,393.0"/>
<path class="k" d="M500.0,393.0 L500.0,397.0 L507.0,394.0 L509.0,390.0"/>
<path class="k" d="M539.2,358.4 L539.2,372.8 L561.6,360.0"/>
<path d="M565.2,356.3 L574,350.8 L575.7,355.2 L565.2,363.5 Z" fill="#333" stroke="#1c1c1c" stroke-width="1"/>
<path d="M567,358.5 L573,354.5" stroke="#fff" stroke-width="1" fill="none"/>
<path class="k" d="M430,358 L430,411 M497,359 L497,409"/>
<path class="t" d="M432.5,358 L432.5,400 M495,359 L495,405"/>
<path class="k" d="M435.5,358 L435.5,389 M435.5,370 L441,371 L441,395"/>
<path class="k" d="M436.0,365.0 C438.0,364.2 442.5,361.2 448.0,360.0 C453.5,358.8 464.7,358.0 469.0,358.0 C473.3,358.0 472.7,358.8 474.0,360.0 C475.3,361.2 475.2,360.5 477.0,365.0 C478.8,369.5 483.3,382.0 485.0,387.0 C486.7,392.0 486.7,393.7 487.0,395.0"/>
<path class="b" d="M477.0,357.5 L488.0,392.0" style="stroke-width:2.6"/>
<path class="b" d="M498.0,361.0 L489.5,392.0" style="stroke-width:2.6"/>
<path class="w" d="M431.5,390.0 C431.7,391.2 432.0,395.0 432.5,397.0 C433.0,399.0 433.4,400.8 434.5,402.0 C435.6,403.2 434.1,403.6 439.0,404.0 C443.9,404.4 455.7,404.3 464.0,404.3 C472.3,404.3 484.0,404.6 489.0,404.0 C494.0,403.4 492.8,402.8 494.0,401.0 C495.2,399.2 495.6,395.0 496.0,393.0 C496.4,391.0 496.4,389.7 496.5,389.0 L492.5,390 L492.5,390.0 C492.2,391.0 491.9,394.6 491.0,396.0 C490.1,397.4 491.7,398.1 487.0,398.5 C482.3,398.9 470.8,398.7 463.0,398.7 C455.2,398.7 444.3,399.1 440.0,398.5 C435.7,397.9 437.6,396.6 437.0,395.0 C436.4,393.4 436.6,390.0 436.5,389.0 Z"/>
<path class="k" d="M430.0,405.0 C430.7,405.7 432.2,408.0 434.0,409.0 C435.8,410.0 436.2,410.6 441.0,411.0 C445.8,411.4 455.5,411.5 463.0,411.5 C470.5,411.5 481.2,411.4 486.0,411.0 C490.8,410.6 490.5,410.0 492.0,409.0 C493.5,408.0 494.5,405.7 495.0,405.0"/>
<path class="w" d="M443.0,395.5 C442.9,394.1 442.2,390.1 442.5,387.0 C442.8,383.9 443.6,379.7 444.5,377.0 C445.4,374.3 446.6,372.4 448.0,371.0 C449.4,369.6 449.0,369.3 453.0,368.5 C457.0,367.7 468.3,365.9 472.0,366.0 C475.7,366.1 473.7,366.2 475.0,369.0 C476.3,371.8 478.8,378.6 480.0,383.0 C481.2,387.4 481.7,393.4 482.0,395.5"/>
<path class="t" d="M445.0,394.5 C445.0,392.9 444.7,388.1 445.0,385.0 C445.3,381.9 446.2,378.2 447.0,376.0 C447.8,373.8 449.5,372.7 450.0,372.0"/>
<path class="t" d="M474.0,371.0 C474.8,373.3 477.4,381.1 478.5,385.0 C479.6,388.9 480.2,392.9 480.5,394.5"/>
</g>
<g id="cables">
<path d="M518.6,264.0 C518.6,263.0 518.7,260.6 518.9,258.0 C519.1,255.4 518.7,251.9 519.6,248.7 C520.5,245.5 522.1,241.5 524.5,239.0 C526.9,236.5 530.1,234.3 534.0,233.6 C537.9,232.9 543.0,233.1 547.6,234.7 C552.2,236.3 556.9,239.4 561.6,243.0 C566.3,246.6 571.2,251.5 575.6,256.4 C580.0,261.3 584.1,266.9 588.2,272.5 C592.3,278.1 597.4,284.4 600.1,290.0 C602.8,295.6 603.9,301.4 604.6,306.0 C605.4,310.6 605.4,313.7 604.6,317.3 C603.8,320.9 602.4,324.7 600.0,327.8 C597.6,330.9 595.3,333.6 590.3,336.2 C585.3,338.8 578.0,341.3 570.0,343.2 C562.0,345.1 553.7,346.4 542.0,347.7 C530.3,349.0 514.3,350.3 500.0,350.9 C485.7,351.5 469.0,350.9 456.0,351.2 C443.0,351.5 430.9,351.5 422.0,352.8 C413.1,354.1 408.3,356.3 402.8,359.2 C397.3,362.1 392.3,366.7 389.2,370.4 C386.1,374.1 384.4,377.7 384.0,381.6 C383.6,385.5 384.5,389.7 386.8,393.6 C389.1,397.5 393.1,401.7 398.0,404.8 C402.9,407.9 409.5,410.5 416.4,412.4 C423.3,414.3 434.0,415.6 439.6,416.4 C445.2,417.2 439.9,417.2 450.0,417.3 C460.1,417.4 485.4,417.7 500.0,416.9 C514.6,416.1 527.3,414.9 537.5,412.5 C547.7,410.1 553.8,406.2 561.0,402.5 C568.2,398.8 574.5,393.2 581.0,390.0 C587.5,386.8 592.7,384.2 600.0,383.0 C607.3,381.8 617.1,380.7 625.0,382.5 C632.9,384.3 641.2,389.1 647.5,393.8 C653.8,398.6 657.8,403.5 662.5,411.0 C667.2,418.5 671.8,427.3 676.0,438.8 C680.2,450.3 685.1,468.3 687.5,480.0 C689.9,491.7 689.8,504.2 690.3,509.0" fill="none" stroke="#1c1c1c" stroke-width="12.8" stroke-linecap="butt" stroke-linejoin="round"/><path d="M518.6,264.0 C518.6,263.0 518.7,260.6 518.9,258.0 C519.1,255.4 518.7,251.9 519.6,248.7 C520.5,245.5 522.1,241.5 524.5,239.0 C526.9,236.5 530.1,234.3 534.0,233.6 C537.9,232.9 543.0,233.1 547.6,234.7 C552.2,236.3 556.9,239.4 561.6,243.0 C566.3,246.6 571.2,251.5 575.6,256.4 C580.0,261.3 584.1,266.9 588.2,272.5 C592.3,278.1 597.4,284.4 600.1,290.0 C602.8,295.6 603.9,301.4 604.6,306.0 C605.4,310.6 605.4,313.7 604.6,317.3 C603.8,320.9 602.4,324.7 600.0,327.8 C597.6,330.9 595.3,333.6 590.3,336.2 C585.3,338.8 578.0,341.3 570.0,343.2 C562.0,345.1 553.7,346.4 542.0,347.7 C530.3,349.0 514.3,350.3 500.0,350.9 C485.7,351.5 469.0,350.9 456.0,351.2 C443.0,351.5 430.9,351.5 422.0,352.8 C413.1,354.1 408.3,356.3 402.8,359.2 C397.3,362.1 392.3,366.7 389.2,370.4 C386.1,374.1 384.4,377.7 384.0,381.6 C383.6,385.5 384.5,389.7 386.8,393.6 C389.1,397.5 393.1,401.7 398.0,404.8 C402.9,407.9 409.5,410.5 416.4,412.4 C423.3,414.3 434.0,415.6 439.6,416.4 C445.2,417.2 439.9,417.2 450.0,417.3 C460.1,417.4 485.4,417.7 500.0,416.9 C514.6,416.1 527.3,414.9 537.5,412.5 C547.7,410.1 553.8,406.2 561.0,402.5 C568.2,398.8 574.5,393.2 581.0,390.0 C587.5,386.8 592.7,384.2 600.0,383.0 C607.3,381.8 617.1,380.7 625.0,382.5 C632.9,384.3 641.2,389.1 647.5,393.8 C653.8,398.6 657.8,403.5 662.5,411.0 C667.2,418.5 671.8,427.3 676.0,438.8 C680.2,450.3 685.1,468.3 687.5,480.0 C689.9,491.7 689.8,504.2 690.3,509.0" fill="none" stroke="#fff" stroke-width="10.0" stroke-linecap="butt" stroke-linejoin="round"/>
<path class="wn" d="M509.5,263.4 A8.6,3.9 0 0 0 526.9,263.4 L526.9,268 L509.5,268 Z"/>
<path class="k" d="M509.5,263.4 A8.6,3.9 0 0 0 526.9,263.4"/>
<path class="t" d="M511.6,263.7 A6.5,2.6 0 0 0 524.8,263.7"/>
<path class="k" d="M509.8,263.4 L509.8,272 M526.6,263.4 L526.6,272"/>
</g>
<g id="floatsw">
<path class="w" d="M630.6,650.0 C630.5,636.0 629.8,636.1 630.4,630.8 C631.0,625.5 632.1,622.3 634.4,618.0 C636.7,613.7 638.4,610.3 644.0,605.2 C649.6,600.1 660.3,592.4 668.0,587.6 C675.7,582.8 683.1,580.0 690.0,576.5 C696.9,573.0 705.5,568.9 709.6,566.8 C713.7,564.6 712.0,564.0 714.4,563.6 C716.8,563.2 720.0,562.8 724.0,564.4 C728.0,566.0 734.7,570.1 738.4,573.2 C742.1,576.3 744.5,579.6 746.4,582.8 C748.3,586.0 749.0,582.9 749.8,592.4 C750.6,601.9 750.8,624.1 751.0,640.0 C751.2,655.9 752.2,677.1 751.2,687.5 C750.2,697.9 747.7,698.3 745.0,702.5 C742.3,706.7 742.5,707.4 735.0,712.5 C727.5,717.6 710.4,727.2 700.0,733.0 C689.6,738.8 679.2,744.7 672.5,747.5 C665.8,750.3 664.6,750.8 660.0,750.0 C655.4,749.2 649.4,745.8 645.0,742.5 C640.6,739.2 636.1,734.6 633.8,730.0 C631.5,725.4 631.7,728.3 631.2,715.0 C630.7,701.7 630.7,664.0 630.6,650.0 Z"/>
<path class="t" d="M638.4,650.0 C638.9,637.0 638.3,639.3 639.2,634.0 C640.1,628.7 641.9,622.3 644.0,618.0 C646.1,613.7 647.2,612.3 652.0,608.4 C656.8,604.5 666.1,598.9 672.8,594.8 C679.5,590.7 685.7,587.5 692.0,584.0 C698.3,580.5 706.4,576.3 710.4,574.0 C714.4,571.7 713.5,570.4 716.0,570.0 C718.5,569.6 722.1,570.1 725.6,571.6 C729.1,573.1 733.7,575.3 736.8,578.8 C739.9,582.3 742.5,582.2 744.0,592.4 C745.5,602.6 745.2,623.7 745.6,640.0 C746.0,656.3 746.8,679.7 746.2,690.0 C745.6,700.3 743.9,699.1 742.0,702.0 C740.1,704.9 742.0,703.3 735.0,707.5 C728.0,711.7 711.7,720.8 700.0,727.0 C688.3,733.2 672.5,742.3 665.0,745.0 C657.5,747.7 657.9,744.2 655.0,743.0 C652.1,741.8 650.2,740.2 647.5,737.5 C644.8,734.8 640.8,731.2 639.0,727.0 C637.2,722.8 636.6,724.8 636.5,712.0 C636.4,699.2 637.9,663.0 638.4,650.0 Z"/>
<path class="k" d="M648.8,650.0 C648.3,637.0 648.8,641.2 649.6,637.2 C650.4,633.2 651.6,629.5 653.6,626.0 C655.6,622.5 656.3,620.7 661.6,616.4 C666.9,612.1 679.2,604.5 685.6,600.4 C692.0,596.3 694.9,594.9 700.0,592.0 C705.1,589.1 712.0,584.8 716.0,583.0 C720.0,581.2 721.3,581.4 724.0,581.2 C726.7,581.0 729.6,580.9 732.0,582.0 C734.4,583.1 737.1,585.3 738.4,587.6 C739.7,589.9 739.7,585.2 740.0,595.6 C740.3,606.0 740.3,634.3 740.4,650.0 C740.5,665.7 740.9,681.7 740.5,690.0 C740.1,698.3 739.3,696.9 738.0,700.0 C736.7,703.1 738.8,704.5 732.5,708.8 C726.2,713.1 710.4,720.6 700.0,726.0 C689.6,731.4 676.7,739.1 670.0,741.2 C663.3,743.3 662.7,740.7 660.0,738.8 C657.3,736.9 655.1,734.0 653.8,730.0 C652.5,726.0 653.2,728.3 652.4,715.0 C651.6,701.7 649.3,663.0 648.8,650.0 Z"/>
<path class="t" d="M654.4,650.0 C654.2,637.3 654.5,642.3 655.2,638.8 C655.9,635.3 656.3,632.7 658.4,629.2 C660.5,625.7 662.7,622.4 668.0,618.0 C673.3,613.6 682.8,607.3 690.0,603.0 C697.2,598.7 705.3,595.5 711.2,592.4 C717.1,589.3 722.1,585.6 725.6,584.4 C729.1,583.2 730.3,584.1 732.0,585.2 C733.7,586.3 735.2,580.0 736.0,590.8 C736.8,601.6 736.5,633.1 736.8,650.0 C737.0,666.9 737.8,683.7 737.5,692.0 C737.2,700.3 735.8,697.8 735.0,700.0 C734.2,702.2 738.3,701.2 732.5,705.0 C726.7,708.8 710.2,717.1 700.0,722.5 C689.8,727.9 677.5,735.2 671.2,737.5 C664.9,739.8 664.3,737.4 662.0,736.0 C659.7,734.6 658.5,732.5 657.5,729.0 C656.5,725.5 656.7,728.2 656.2,715.0 C655.7,701.8 654.6,662.7 654.4,650.0 Z"/>
<path class="k" d="M656.2,637.2 L656.2,727.5 L683.8,720"/>
<path class="k" d="M656.2,637.2 L671.2,614.8 L690.4,634"/>
<path class="k" d="M656.2,637.2 L684,645.2 C684.5,641 686,638 690.4,634 L735.2,614 L739.2,615.6"/>
<path class="t" d="M687,640 C688,638.5 689.5,637.5 692,637.2 L735.2,618"/>
<path class="t" d="M724.8,586 L735.2,614"/>
<path class="k" d="M683.8,645 L683.8,720 M690,640 L690,723.5 L735,702.5"/>
<path class="t" d="M683.8,720 L690,723.5 M684,718 L733,697"/>
<path class="k" d="M738.6,618 L738.6,697"/>
<path class="t" d="M735.2,618 L735.2,700"/>
<path class="w" d="M686.4,597 L686.4,605.2 C689,609 695,611 700,610.8 C705,610 707.5,607 708.8,602 L709.6,592 Z"/>
<path class="w" d="M674.4,550.8 L669.6,586 C672,591 680,596 690.4,597.2 C699,597.5 706,595.5 710.4,592.4 L707.2,550.8 C700,548 682,548 674.4,550.8 Z"/>
<path class="k" d="M674.4,552 C680,560 700,561.5 707.2,552"/>
<path class="w" d="M680.5,541.2 C678,545 676,548 674.4,551.5 C682,561 700,561 707.2,551.5 C705,548 702,545 699.5,541.2 Z"/>
<path class="w" d="M680.5,510 L680.5,541.2 C685,546.5 695,546.5 699.5,541.2 L699.5,510 A9.5,3.8 0 0 1 680.5,510 Z"/>
<path class="t" d="M680.5,510 A9.5,3.8 0 0 1 699.5,510"/>
<path class="t" d="M683.5,510.6 A6.5,2.4 0 0 0 696.5,510.6"/>
</g>
<g id="plug">
<path class="w" d="M104.1,416.6 L125.1,400.5 L130.0,408.2 L109.0,424.3 Z"/>
<ellipse cx="106.5" cy="420.4" rx="2.6" ry="4.6" transform="rotate(38 106.5 420.4)" class="w"/>
<path class="w" d="M129.3,428.5 L138.4,421.5 L144.0,427.1 L133.5,434.8 Z"/>
<ellipse cx="131.4" cy="431.7" rx="2.6" ry="4.4" transform="rotate(38 131.4 431.7)" class="w"/>
<path class="wn" d="M125.1,387.2 L126.5,381.6 L128.6,378.8 L144.0,367.6 L144.0,363.4 L152.4,360.6 L170.6,355.7 L172.0,380.9 L148.9,388.6 L155.2,399.8 L165.0,409.6 L179.0,413.8 L167.8,428.5 L155.2,428.5 L151.0,427.8 L134.2,418.0 L130.0,406.1 L129.3,402.6 L125.1,392.8 Z"/>
<path class="k" d="M125.1,392.8 C125.0,391.9 124.4,389.1 124.7,387.2 C124.9,385.3 125.8,383.0 126.5,381.6 C127.2,380.2 128.2,379.3 128.6,378.8"/>
<path class="k" d="M128.6,378.8 L144.0,367.6"/>
<path class="t" d="M127.9,383.0 L143.3,371.1"/>
<path class="k" d="M144.0,362.7 L145.4,384.4 L148.9,388.6"/>
<path class="k" d="M129.3,402.6 L144.0,391.4"/>
<path class="t" d="M125.1,392.8 L128.6,396.3 L129.3,402.6"/>
<path class="k" d="M129.3,404.0 C129.5,405.2 129.9,408.7 130.7,411.0 C131.5,413.3 132.2,415.8 134.2,418.0 C136.2,420.2 139.8,422.7 142.6,424.3 C145.4,425.9 149.6,427.2 151.0,427.8"/>
<path class="k" d="M125.1,392.8 L131.4,384.4 L134.9,383.7 L136.3,389.3 L129.3,394.2 L126.5,396.3"/>
<path class="t" d="M131.4,384.4 L131.7,390.0 L136.3,389.3"/>
<path class="k" d="M148.9,388.6 C149.9,390.5 152.5,396.3 155.2,399.8 C157.9,403.3 161.0,407.3 165.0,409.6 C169.0,411.9 175.5,413.2 179.0,413.8 C182.5,414.4 184.1,413.8 186.0,413.1 C187.9,412.4 189.3,411.6 190.2,409.6 C191.1,407.6 191.1,403.8 191.6,401.2 C192.1,398.6 192.3,396.1 193.0,394.2 C193.7,392.3 194.6,391.0 195.8,390.0 C197.0,388.9 198.9,388.7 200.0,387.9 C201.0,387.1 202.1,386.1 202.1,385.1 C202.1,384.0 200.3,382.2 200.0,381.6"/>
<path class="k" d="M148.9,388.6 L172.0,380.9 L170.6,355.7 L152.4,360.6 L144.0,363.4"/>
<path class="b" d="M153.8,425.7 L171.3,413.5" style="stroke-width:2.4"/>
<path class="k" d="M151.0,427.8 L155.2,430.6 L167.8,428.5 L181.8,413.8"/>
<path class="t" d="M155.2,428.5 L172.0,416.6"/>
<path class="w" d="M170.6,355.7 L181.8,352.9 L202.1,337.5 L214.0,343.8 L223.1,352.9 L223.8,362.7 L200.0,381.6 L193.0,376.0 L174.8,376.0 L172.0,380.9 Z"/>
<path class="k" d="M202.1,337.5 L205.6,359.2 L223.8,362.7"/>
<path class="k" d="M181.8,352.9 L186.0,373.2 L205.6,359.2"/>
<path class="t" d="M174.8,357.8 L176.9,373.9"/>
<path class="t" d="M179.0,355.0 L179.0,373.2"/>
<path class="k" d="M183.5,353.6 L186.6,371.1" style="stroke-width:1.2"/>
<path class="k" d="M185.2,352.5 L188.2,370.0" style="stroke-width:1.2"/>
<path class="k" d="M186.8,351.5 L189.9,369.0" style="stroke-width:1.2"/>
<path class="k" d="M188.5,350.4 L191.6,367.9" style="stroke-width:1.2"/>
<path class="k" d="M190.2,349.4 L193.3,366.9" style="stroke-width:1.2"/>
<path class="k" d="M191.9,348.3 L195.0,365.8" style="stroke-width:1.2"/>
<path class="k" d="M193.6,347.3 L196.6,364.8" style="stroke-width:1.2"/>
<path class="k" d="M195.2,346.2 L198.3,363.7" style="stroke-width:1.2"/>
<path class="k" d="M196.9,345.2 L200.0,362.7" style="stroke-width:1.2"/>
<path class="k" d="M188.5,372.1 L189.6,376.0" style="stroke-width:1.6"/>
<path class="k" d="M198.3,376.3 L199.4,379.9" style="stroke-width:1.6"/>
<path class="k" d="M191.3,370.5 L192.4,374.5" style="stroke-width:1.6"/>
<path class="k" d="M201.1,374.6 L202.2,378.2" style="stroke-width:1.6"/>
<path class="k" d="M194.1,369.0 L195.2,372.9" style="stroke-width:1.6"/>
<path class="k" d="M203.9,372.9 L205.0,376.6" style="stroke-width:1.6"/>
<path class="k" d="M196.9,367.5 L198.0,371.4" style="stroke-width:1.6"/>
<path class="k" d="M206.7,371.2 L207.8,374.9" style="stroke-width:1.6"/>
<path class="k" d="M199.7,365.9 L200.8,369.8" style="stroke-width:1.6"/>
<path class="k" d="M209.5,369.6 L210.6,373.2" style="stroke-width:1.6"/>
<path d="M213.4,349.8 C216.1,347.9 224.0,342.1 229.3,338.1 C234.7,334.1 240.6,328.9 245.5,325.8 C250.4,322.7 254.2,320.7 258.5,319.3 C262.8,317.9 267.1,317.4 271.5,317.4 C275.9,317.4 280.2,318.0 285.2,319.3 C290.2,320.6 296.0,323.2 301.4,325.2 C306.8,327.1 314.9,330.0 317.6,331.0" fill="none" stroke="#1c1c1c" stroke-width="15.8" stroke-linecap="butt" stroke-linejoin="round"/><path d="M213.4,349.8 C216.1,347.9 224.0,342.1 229.3,338.1 C234.7,334.1 240.6,328.9 245.5,325.8 C250.4,322.7 254.2,320.7 258.5,319.3 C262.8,317.9 267.1,317.4 271.5,317.4 C275.9,317.4 280.2,318.0 285.2,319.3 C290.2,320.6 296.0,323.2 301.4,325.2 C306.8,327.1 314.9,330.0 317.6,331.0" fill="none" stroke="#fff" stroke-width="12.8" stroke-linecap="butt" stroke-linejoin="round"/>
<ellipse cx="213.2" cy="350.2" rx="4" ry="7.3" transform="rotate(36 213.2 350.2)" class="w" style="stroke-width:1.8"/>
</g>
<g id="callouts">
<path class="lead" d="M135.5,278.0 L152.0,373.0"/>
<path class="lead" d="M770.0,178.5 L585.0,223.6"/>
<path class="lead" d="M770.0,263.5 L605.0,312.0"/>
<path class="lead" d="M770.0,391.0 L567.0,453.0"/>
<path class="lead" d="M770.0,631.5 L720.0,647.0"/>
<path class="lead" d="M608.5,786.0 L547.5,760.5"/>
<path class="lead" d="M153.5,626.5 L280.0,599.5"/>
<path class="lead" d="M152.0,482.5 L277.5,460.0"/>
<g style="opacity:0.995">
<circle class="circ" cx="130.0" cy="247.3" r="30.1"/>
<path fill="#222" transform="translate(118.00,264.60) scale(0.0206,-0.0206)" d="M763,0 H583 V1147 Q518,1085 412.5,1023 Q307,961 223,930 V1104 Q374,1175 487,1276 Q600,1377 647,1472 H763 Z"/>
<circle class="circ" cx="799.3" cy="172.0" r="30.1"/>
<text class="num" x="798.5" y="188.20">2</text>
<circle class="circ" cx="799.3" cy="254.5" r="30.1"/>
<text class="num" x="798.5" y="270.70">3</text>
<circle class="circ" cx="799.3" cy="382.5" r="30.1"/>
<text class="num" x="798.5" y="398.70">4</text>
<circle class="circ" cx="799.3" cy="624.5" r="30.1"/>
<text class="num" x="798.5" y="640.70">5</text>
<circle class="circ" cx="637.0" cy="799.0" r="30.1"/>
<text class="num" x="636.2" y="815.20">6</text>
<circle class="circ" cx="122.5" cy="632.5" r="30.1"/>
<text class="num" x="121.7" y="648.70">7</text>
<circle class="circ" cx="121.5" cy="490.0" r="30.1"/>
<text class="num" x="120.7" y="506.20">8</text>
</g>
</g>
</svg>
</body></html>
